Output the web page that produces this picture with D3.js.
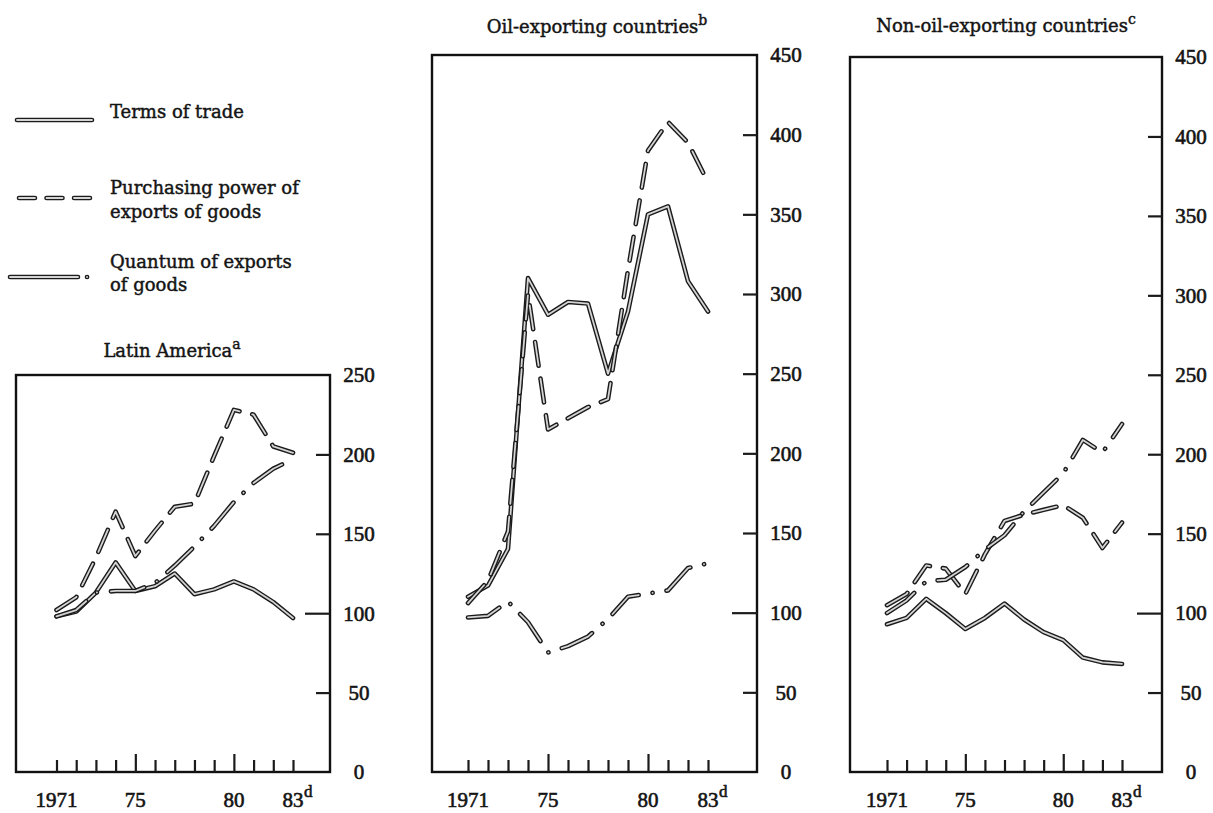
<!DOCTYPE html>
<html>
<head>
<meta charset="utf-8">
<script src="https://cdnjs.cloudflare.com/ajax/libs/d3/7.8.5/d3.min.js"></script>
<style>
  body { margin: 0; background: #fff; }
  text { font-family: "DejaVu Serif", serif; fill: #141414; stroke: #141414; stroke-width: 0.45px; }
  .num { font-family: "Liberation Serif", serif; font-size: 21px; stroke-width: 0.6px; }
  .title, .legend-text { font-size: 18px; }
</style>
</head>
<body>
<svg id="chart" width="1213" height="813"></svg>
<script>
/* eslint-disable no-undef */
const years = [1971, 1972, 1973, 1974, 1975, 1976, 1977, 1978, 1979, 1980, 1981, 1982, 1983];
const yearLabels = [1971, 1975, 1980, 1983];
const majorYears = [1975, 1980];

const latinTerms      = [98, 101, 113, 132, 114, 117, 125, 112, 115, 120, 115, 107, 97];
const latinPurchasing = [102, 110, 135, 164, 136, 152, 167, 169, 199, 228, 225, 205, 201];
const latinQuantum    = [98, 102, 113, 114, 114, 119, 130, 142, 155, 170, 182, 191, 197];

const oilTerms      = [110, 117, 140, 310, 287, 295, 294, 250, 289, 350, 355, 308, 289];
const oilPurchasing = [106, 120, 151, 300, 215, 222, 229, 234, 315, 390, 408, 395, 370];
const oilQuantum    = [97, 98, 107, 94, 75, 79, 85, 96, 110, 112, 114, 128, 131];

const nonOilTerms      = [93, 97, 109, 100, 90, 97, 106, 96, 88, 83, 72, 69, 68];
const nonOilPurchasing = [105, 112, 130, 128, 112, 137, 158, 162, 165, 168, 160, 141, 157];
const nonOilQuantum    = [100, 108, 120, 121, 129, 140, 149, 164, 176, 188, 209, 201, 219];

const seriesNames = ['Terms of trade', 'Purchasing power of exports of goods', 'Quantum of exports of goods'];

// dash styles for the three series
const dashes = ['none', '24,13', '34,14,0.1,14'];

const panels = [
  {title: 'Latin America', sup: 'a', data: [latinTerms, latinPurchasing, latinQuantum],
   x71: 56.5, x83: 293, left: 16, right: 330, top: 375, bottom: 772, yMax: 250,
   titleX: 172, titleY: 357},
  {title: 'Oil-exporting countries', sup: 'b', data: [oilTerms, oilPurchasing, oilQuantum],
   x71: 468, x83: 708, left: 432, right: 757, top: 55, bottom: 772, yMax: 450,
   titleX: 597, titleY: 33},
  {title: 'Non-oil-exporting countries', sup: 'c', data: [nonOilTerms, nonOilPurchasing, nonOilQuantum],
   x71: 887, x83: 1122, left: 850, right: 1162, top: 57, bottom: 772, yMax: 450,
   titleX: 1006, titleY: 32}
];

const svg = d3.select('#chart');

const drawDouble = (g, d, dash) => {
  g.append('path')
    .attr('d', d)
    .attr('fill', 'none')
    .attr('stroke', '#1b1b1b')
    .attr('stroke-width', 4.6)
    .attr('stroke-linecap', 'round')
    .attr('stroke-linejoin', 'round')
    .attr('stroke-dasharray', dash);
  g.append('path')
    .attr('d', d)
    .attr('fill', 'none')
    .attr('stroke', '#d4d4d4')
    .attr('stroke-width', 1.8)
    .attr('stroke-linecap', 'round')
    .attr('stroke-linejoin', 'round')
    .attr('stroke-dasharray', dash);
};

const makePanel = (p) => {
  const x = d3.scaleLinear().domain([1971, 1983]).range([p.x71, p.x83]);
  const y = d3.scaleLinear().domain([0, p.yMax]).range([p.bottom, p.top]);
  const g = svg.append('g').attr('class', 'panel');

  // frame
  g.append('rect')
    .attr('x', p.left).attr('y', p.top)
    .attr('width', p.right - p.left).attr('height', p.bottom - p.top)
    .attr('fill', 'none').attr('stroke', '#111').attr('stroke-width', 2.4);

  // y ticks point inward from the right edge
  const yTicks = d3.range(50, p.yMax, 50);
  const yAxis = g.append('g')
    .attr('transform', `translate(${p.right},0)`)
    .call(d3.axisLeft(y).tickValues(yTicks).tickSize(14).tickFormat(''));
  yAxis.select('.domain').remove();
  yAxis.selectAll('.tick line')
    .attr('stroke', '#1b1b1b').attr('stroke-width', 2.2)
    .attr('x2', v => v === 100 ? -25 : -14);

  g.selectAll('.ylab')
    .data(d3.range(0, p.yMax + 1, 50))
    .enter().append('text')
    .attr('class', 'num ylab')
    .attr('x', p.right + 29)
    .attr('y', v => y(v))
    .attr('dy', '0.35em')
    .attr('text-anchor', 'middle')
    .text(v => v);

  // x ticks point up from the bottom edge
  const xAxis = g.append('g')
    .attr('transform', `translate(0,${p.bottom})`)
    .call(d3.axisTop(x).tickValues(years).tickSize(12).tickFormat(''));
  xAxis.select('.domain').remove();
  xAxis.selectAll('.tick line')
    .attr('stroke', '#1b1b1b').attr('stroke-width', 2.2)
    .attr('y2', v => majorYears.includes(v) ? -18 : -12);

  g.selectAll('.xlab')
    .data(yearLabels)
    .enter().append('text')
    .attr('class', 'num xlab')
    .attr('x', v => x(v))
    .attr('y', 807)
    .attr('text-anchor', 'middle')
    .text(v => v === 1971 ? '1971' : String(v).slice(2));
  g.append('text')
    .attr('class', 'num')
    .attr('x', x(1983) + 11)
    .attr('y', 797)
    .style('font-size', '17px')
    .text('d');

  // title
  const t = g.append('text')
    .attr('class', 'title')
    .attr('x', p.titleX).attr('y', p.titleY)
    .attr('text-anchor', 'middle')
    .text(p.title);
  t.append('tspan').attr('dy', -8).style('font-size', '14px').text(p.sup);

  const line = d3.line().x((v, i) => x(years[i])).y(v => y(v));
  p.data.forEach((s, i) => drawDouble(g, line(s), dashes[i]));
};

panels.forEach(makePanel);

// legend
const legend = svg.append('g').attr('class', 'legend');
const legendRows = [
  {lines: [[118, 'Terms of trade']], path: 'M17,120H92', dash: 'none'},
  {lines: [[194, 'Purchasing power of'], [218, 'exports of goods']], path: 'M19,198H90', dash: '16,11.5'},
  {lines: [[268, 'Quantum of exports'], [291, 'of goods']], path: 'M10,277H88', dash: '68,9,0.1,100'}
];
legendRows.forEach((r) => {
  drawDouble(legend, r.path, r.dash);
  r.lines.forEach(([ty, txt]) => {
    legend.append('text')
      .attr('class', 'legend-text')
      .attr('x', 110).attr('y', ty)
      .text(txt);
  });
});
</script>
</body>
</html>
